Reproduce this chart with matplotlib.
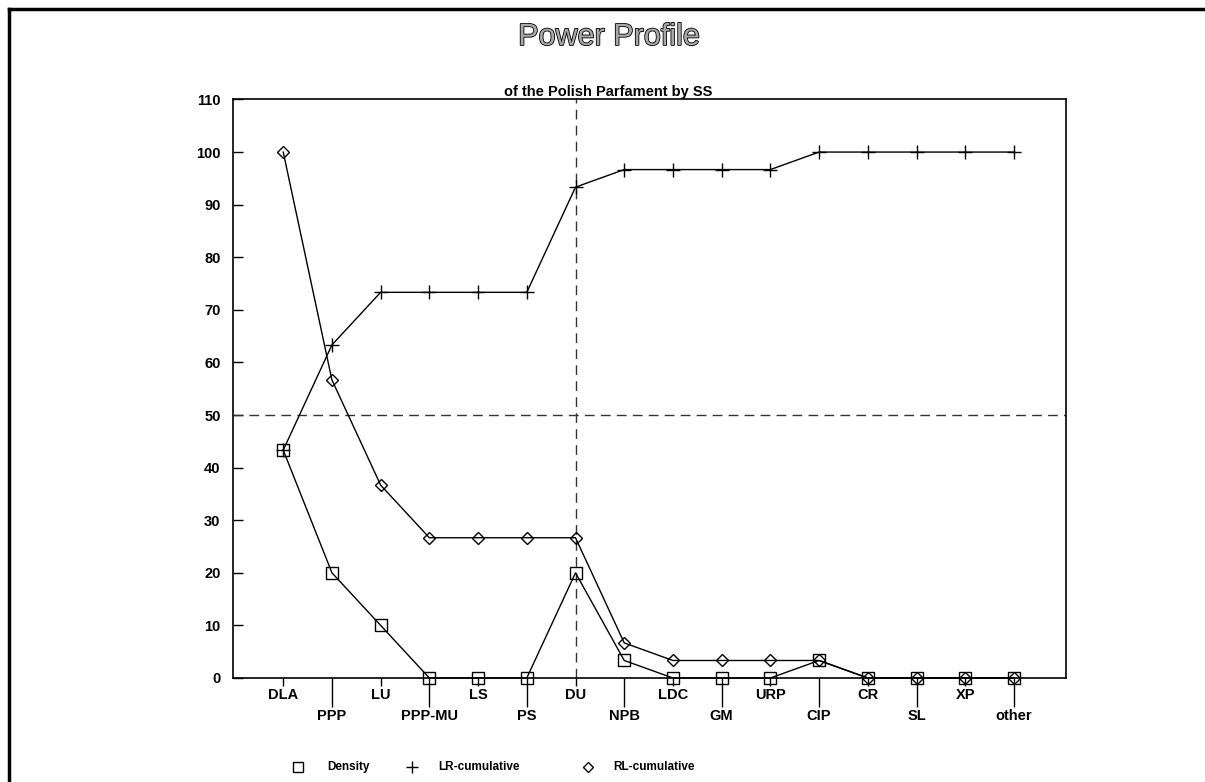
import matplotlib
matplotlib.use("Agg")
import matplotlib.pyplot as plt
from matplotlib.lines import Line2D
import matplotlib.patheffects as pe

plt.rcParams['font.family'] = ['Liberation Sans', 'DejaVu Sans']

# Parties in order along the left-right axis
parties = ["DLA", "PPP", "LU", "PPP-MU", "LS", "PS", "DU", "NPB",
           "LDC", "GM", "URP", "CIP", "CR", "SL", "XP", "other"]

# Power shares (%) per party and their cumulative sums from each side
density = [43.33, 20.0, 10.0, 0.0, 0.0, 0.0, 20.0, 3.33,
           0.0, 0.0, 0.0, 3.33, 0.0, 0.0, 0.0, 0.0]
lr_cumulative = [43.33, 63.33, 73.33, 73.33, 73.33, 73.33, 93.33, 96.67,
                 96.67, 96.67, 96.67, 100.0, 100.0, 100.0, 100.0, 100.0]
rl_cumulative = [100.0, 56.67, 36.67, 26.67, 26.67, 26.67, 26.67, 6.67,
                 3.33, 3.33, 3.33, 3.33, 0.0, 0.0, 0.0, 0.0]

y_ticks = list(range(0, 111, 10))
median_level = 50
median_party = "DU"

fig = plt.figure(figsize=(12.05, 7.82), dpi=100)
ax = fig.add_axes([0.1934, 0.1330, 0.6913, 0.7398])

x = list(range(len(parties)))

ax.plot(x, density, color='black', lw=1, marker='s', ms=8,
        mfc='none', mec='black', mew=1, zorder=3, clip_on=False)
ax.plot(x, lr_cumulative, color='black', lw=1, marker='+', ms=10,
        mew=1, zorder=3, clip_on=False)
ax.plot(x, rl_cumulative, color='black', lw=1, marker='D', ms=6,
        mfc='none', mec='black', mew=1, zorder=3, clip_on=False)

# Median reference lines
dash = (7, 4.5)
ax.axhline(median_level, color='#333333', lw=1, dashes=dash, zorder=2)
ax.axvline(parties.index(median_party), color='#333333', lw=1,
           dashes=dash, zorder=2)

ax.set_xlim(-1.03, 16.07)
ax.set_ylim(0, 110)

# Y axis: inward ticks, bold labels
ax.set_yticks(y_ticks)
ax.set_yticklabels([str(v) for v in y_ticks], fontsize=10.5, fontweight='bold')
ax.tick_params(axis='y', direction='in', length=7.2, width=1, pad=9,
               right=False)

# X axis: labels staggered on two rows
even = x[0::2]
odd = x[1::2]
ax.set_xticks(even)
ax.set_xticklabels(parties[0::2], fontsize=10.5, fontweight='bold')
ax.set_xticks(odd, minor=True)
ax.set_xticklabels(parties[1::2], minor=True, fontsize=10.5, fontweight='bold')
ax.tick_params(axis='x', which='major', direction='out', length=6,
               width=1, pad=1.5)
ax.tick_params(axis='x', which='minor', direction='out', length=21,
               width=1, pad=1)

for s in ax.spines.values():
    s.set_linewidth(1.2)
    s.set_color('black')

# Titles
fig.text(0.505, 0.9527, "Power Profile", ha='center', va='center',
         fontsize=22, color='#a8a8a8',
         path_effects=[pe.withStroke(linewidth=1.2, foreground='black')])
fig.text(0.505, 0.8824, "of the Polish Parfament by SS", ha='center',
         va='center', fontsize=10.5, fontweight='bold')

# Legend along the bottom
W, H = 1205.0, 782.0
ly = 1 - 767 / H
entries = [
    (298, 's', 7.5, 327, "Density"),
    (412, '+', 9, 438, "LR-cumulative"),
    (588, 'D', 5.5, 613, "RL-cumulative"),
]
for mx, mk, ms, tx, label in entries:
    fig.add_artist(Line2D([mx / W], [ly], marker=mk, ms=ms, mfc='none',
                          mec='black', mew=1, ls='none',
                          transform=fig.transFigure))
    fig.text(tx / W, ly, label, ha='left', va='center', fontsize=8.5,
             fontweight='bold')

# Frame along the top and left edges
fig.add_artist(Line2D([9 / W, 1.0], [1 - 9 / H, 1 - 9 / H], color='black',
                      lw=2.5, transform=fig.transFigure))
fig.add_artist(Line2D([9 / W, 9 / W], [0.0, 1 - 9 / H], color='black',
                      lw=2.5, transform=fig.transFigure))

fig.savefig("out.png", dpi=100, facecolor='white')
